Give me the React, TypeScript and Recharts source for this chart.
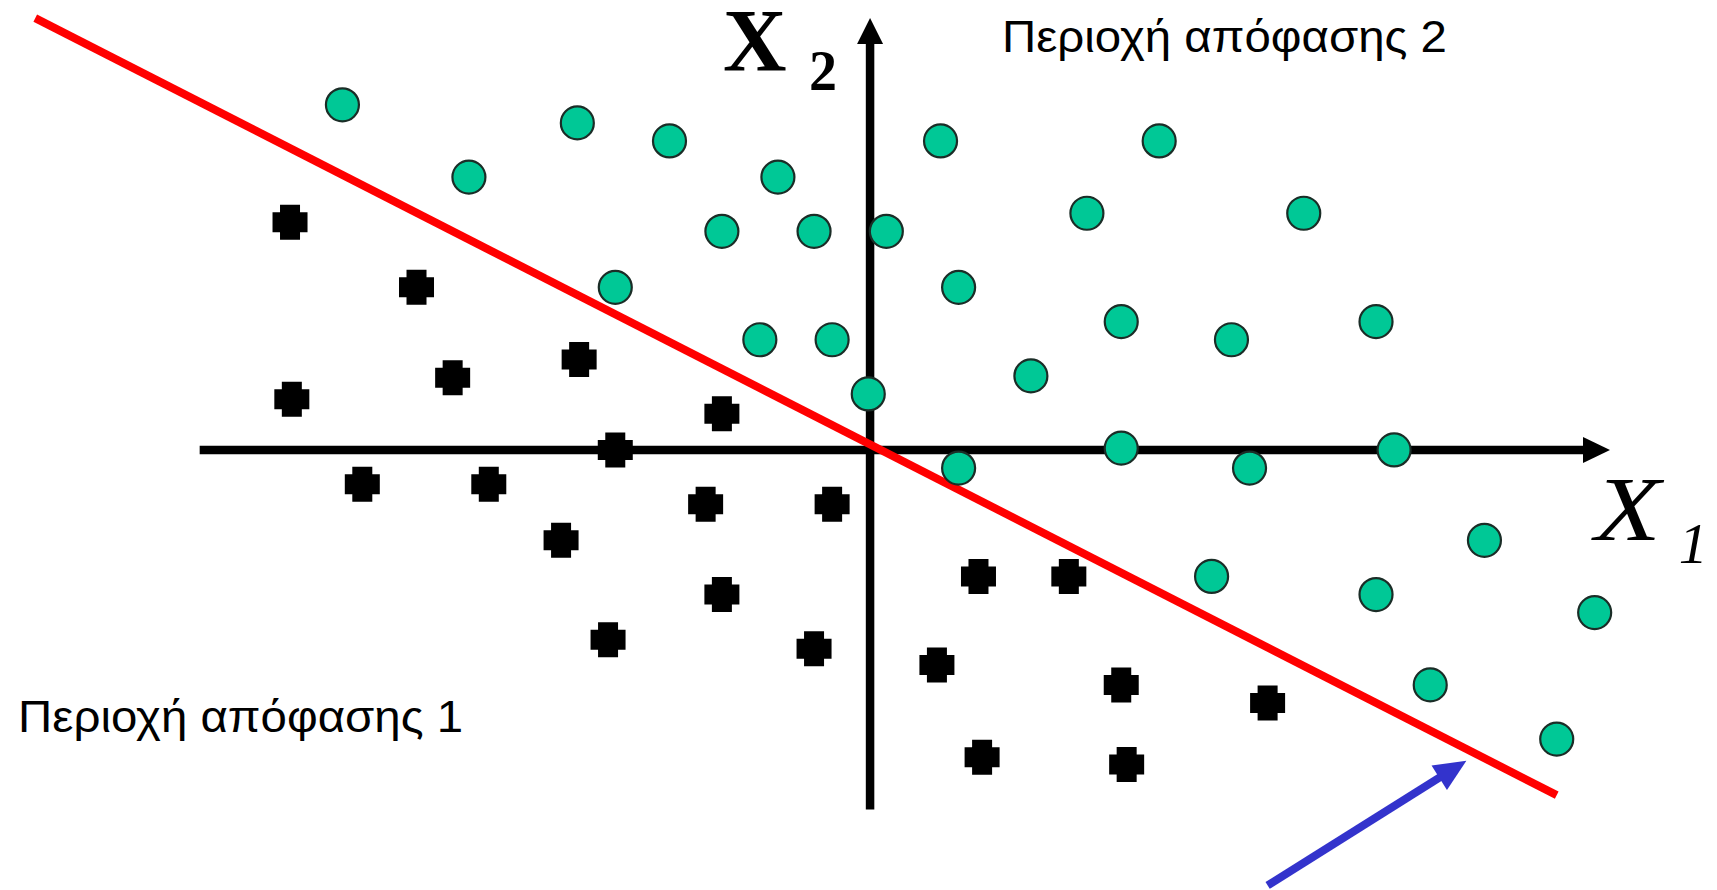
import { ScatterChart, Scatter, XAxis, YAxis, ReferenceLine, ReferenceDot } from "recharts";

// decision region 2 samples (green circles), values in grid units (x1, x2)
const region2X = [-29.2, -16.2, -11.1, -22.2, -5.1, 3.9, 16.0, 12.0, 24.0, -8.2, -3.1, 0.9, -14.1, 4.9, 13.9, 20.0, 28.0, -6.1, -2.1, 8.9, -0.1, 13.9, 29.0, 4.9, 21.0, 34.0, 18.9, 28.0, 40.1, 31.0, 38.0];
const region2Y = [19.1, 18.1, 17.1, 15.1, 15.1, 17.1, 17.1, 13.1, 13.1, 12.1, 12.1, 12.1, 9.0, 9.0, 7.1, 6.1, 7.1, 6.1, 6.1, 4.1, 3.1, 0.1, 0.0, -1.0, -1.0, -5.0, -7.0, -8.0, -9.0, -13.0, -16.0];

// decision region 1 samples (black crosses)
const region1X = [-32.1, -25.1, -23.1, -16.1, -32.0, -8.2, -14.1, -28.1, -21.1, -9.1, -2.1, -17.1, -8.2, -14.5, -3.1, 6.0, 11.0, 3.7, 13.9, 22.0, 6.2, 14.2];
const region1Y = [12.6, 9.0, 4.0, 5.0, 2.8, 2.0, 0.0, -1.9, -1.9, -3.0, -3.0, -5.0, -8.0, -10.5, -11.0, -7.0, -7.0, -11.9, -13.0, -14.0, -17.0, -17.4];

// decision boundary (red) and the pointer to it (blue)
const boundaryX = [-46.2, 38.0];
const boundaryY = [23.9, -19.1];
const pointerX = [22.0, 33.0];
const pointerY = [-24.1, -17.2];

// axis extents
const x1AxisRange = [-37.1, 40.95];
const x2AxisRange = [-19.9, 23.9];

const region2 = region2X.map((x, i) => ({ x, y: region2Y[i] }));
const region1 = region1X.map((x, i) => ({ x, y: region1Y[i] }));

const W = 1717;
const H = 890;

function Arrow(props: any) {
  const { x1, y1, x2, y2, color, width, headLen, headW } = props;
  const dx = x2 - x1;
  const dy = y2 - y1;
  const len = Math.hypot(dx, dy);
  const ux = dx / len;
  const uy = dy / len;
  const bx = x2 - ux * headLen;
  const by = y2 - uy * headLen;
  const px = -uy * headW / 2;
  const py = ux * headW / 2;
  return (
    <g>
      <line x1={x1} y1={y1} x2={bx + ux * 2} y2={by + uy * 2} stroke={color} strokeWidth={width} />
      <polygon points={`${x2},${y2} ${bx + px},${by + py} ${bx - px},${by - py}`} fill={color} />
    </g>
  );
}

function Dot(props: any) {
  return <circle cx={props.cx} cy={props.cy} r={16.5} fill="#00c896" stroke="#1b2d27" strokeWidth={2.2} />;
}

function Cross(props: any) {
  const { cx, cy } = props;
  const o = 17.5;
  const a = 10;
  const pts = [
    [-a, -o], [a, -o], [a, -a], [o, -a], [o, a], [a, a], [a, o], [-a, o], [-a, a], [-o, a], [-o, -a], [-a, -a],
  ].map(([dx, dy]) => `${cx + dx},${cy + dy}`).join(" ");
  return <polygon points={pts} fill="#000" />;
}

const sans = "'Liberation Sans', Arial, sans-serif";
const serif = "'Liberation Serif', 'Times New Roman', serif";

function RegionLabel({ cx, cy, text }: any) {
  return (
    <text x={cx} y={cy} fontFamily={sans} fontSize={44} fill="#000" textLength={445} lengthAdjust="spacingAndGlyphs">
      {text}
    </text>
  );
}

export default function App() {
  return (
    <div style={{ position: "fixed", left: 0, top: 0, width: W, height: H, background: "#fff" }}>
      <ScatterChart width={W} height={H} margin={{ top: 0, right: 0, bottom: 0, left: 0 }}>
        <XAxis type="number" dataKey="x" domain={[-48.15, 46.87]} hide allowDataOverflow />
        <YAxis type="number" dataKey="y" domain={[-24.35, 24.9]} hide allowDataOverflow />
        <Scatter data={region2} shape={Dot} isAnimationActive={false} />
        <Scatter data={region1} shape={Cross} isAnimationActive={false} />
        <ReferenceLine
          segment={[{ x: x1AxisRange[0], y: 0 }, { x: x1AxisRange[1], y: 0 }]}
          shape={(p: any) => <Arrow {...p} color="#000" width={8.5} headLen={27} headW={26} />}
        />
        <ReferenceLine
          segment={[{ x: 0, y: x2AxisRange[0] }, { x: 0, y: x2AxisRange[1] }]}
          shape={(p: any) => <Arrow {...p} color="#000" width={8.5} headLen={26} headW={26} />}
        />
        <ReferenceLine
          segment={[{ x: boundaryX[0], y: boundaryY[0] }, { x: boundaryX[1], y: boundaryY[1] }]}
          stroke="#ff0000"
          strokeWidth={8}
        />
        <ReferenceLine
          segment={[{ x: pointerX[0], y: pointerY[0] }, { x: pointerX[1], y: pointerY[1] }]}
          shape={(p: any) => <Arrow {...p} color="#3333cc" width={8} headLen={32} headW={29} />}
        />
        <ReferenceDot
          x={-8.14}
          y={21.03}
          shape={(p: any) => (
            <g fontFamily={serif} fontWeight="bold" fill="#000">
              <text x={p.cx} y={p.cy} fontSize={88}>X</text>
              <text x={p.cx + 86} y={p.cy + 20} fontSize={56}>2</text>
            </g>
          )}
        />
        <ReferenceDot
          x={40.1}
          y={-4.98}
          shape={(p: any) => (
            <g fontFamily={serif} fontStyle="italic" fill="#000">
              <text x={p.cx} y={p.cy} fontSize={92} textLength={66} lengthAdjust="spacingAndGlyphs">X</text>
              <text x={p.cx + 84} y={p.cy + 23} fontSize={58}>1</text>
            </g>
          )}
        />
        <ReferenceDot x={7.3} y={22.03} shape={(p: any) => <RegionLabel {...p} text="Περιοχή απόφασης 2" />} />
        <ReferenceDot x={-47.15} y={-15.61} shape={(p: any) => <RegionLabel {...p} text="Περιοχή απόφασης 1" />} />
      </ScatterChart>
    </div>
  );
}
